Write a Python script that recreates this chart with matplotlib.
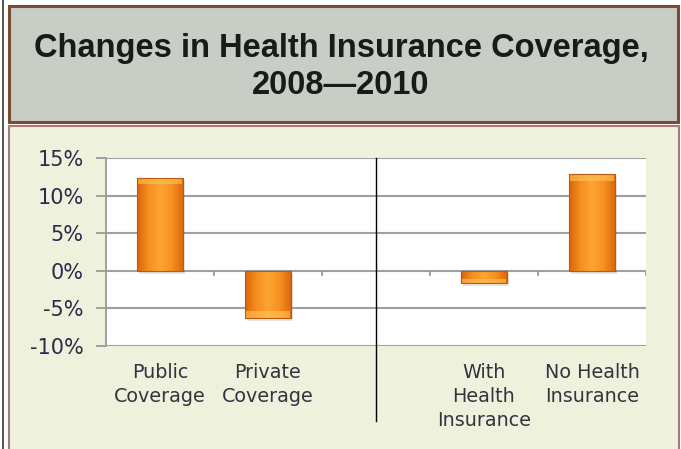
import numpy as np
import matplotlib
matplotlib.use("Agg")
import matplotlib.pyplot as plt
from matplotlib.patches import Rectangle
from matplotlib.colors import LinearSegmentedColormap

# data (percent change, 2008-2010)
categories = ["Public\nCoverage", "Private\nCoverage", "With\nHealth\nInsurance", "No Health\nInsurance"]
positions = [0, 1, 3, 4]
changes = [12.4, -6.3, -1.6, 12.9]
yticks = [-10, -5, 0, 5, 10, 15]

fig = plt.figure(figsize=(6.81, 4.49), dpi=100)
fig.patch.set_facecolor("white")

W, H = 681, 449


def px_rect(x0, y0, x1, y1, **kw):
    # rectangle given in pixel coords (origin top-left)
    r = Rectangle((x0 / W, 1 - y1 / H), (x1 - x0) / W, (y1 - y0) / H,
                  transform=fig.transFigure, zorder=-5, **kw)
    fig.add_artist(r)
    return r


# outer frame line on the left
fig.add_artist(plt.Line2D([3 / W, 3 / W], [0, 1], transform=fig.transFigure,
                          color="#333333", lw=1.2, zorder=-5))
# title box
px_rect(8.5, 5.5, 678, 121.5, facecolor="#c8cdc6", edgecolor="#7b4a35", lw=2.2)
# chart panel
px_rect(9, 125.5, 678.5, 455, facecolor="#eef1dc", edgecolor="#a87a7a", lw=1.5)

fig.text(341 / W, 1 - 48 / H, "Changes in Health Insurance Coverage,",
         ha="center", va="center", fontsize=23.5, fontweight="bold",
         family="Liberation Sans", color="#1a1a1a")
fig.text(341 / W, 1 - 85 / H, "2008\u20142010",
         ha="center", va="center", fontsize=23.5, fontweight="bold",
         family="Liberation Sans", color="#1a1a1a")

ax = fig.add_axes([106 / W, 1 - 346 / H, 540 / W, 188 / H])
ax.set_facecolor("white")

for s in ["top", "right", "bottom"]:
    ax.spines[s].set_visible(False)
ax.spines["left"].set_color("#9a9a9a")
ax.spines["left"].set_linewidth(1.3)

ax.set_yticks(yticks)
ax.set_yticklabels([f"{v}%" for v in yticks], family="DejaVu Sans",
                   fontsize=15, color="#2a2a4a")
ax.tick_params(axis="y", length=7, width=1.3, color="#9a9a9a", pad=9)
ax.yaxis.grid(True, color="#a0a0a0", lw=1.5)
ax.set_axisbelow(True)

ax.set_xticks([])
# slot tick marks below the zero line
for xb in [0.5, 1.5, 2.5, 3.5, 4.5]:
    ax.plot([xb, xb], [0, -0.6], color="#9a9a9a", lw=1.3, zorder=2)

# orange bars with a soft horizontal gradient and a light top bevel
grad = LinearSegmentedColormap.from_list(
    "bar", ["#d9660c", "#f7901f", "#fca535", "#f7901f", "#d9660c"])
bw = 0.43
for x, v in zip(positions, changes):
    lo, hi = min(0, v), max(0, v)
    # shadow
    ax.add_patch(Rectangle((x - bw / 2 + 0.02, lo - 0.4), bw, hi - lo,
                           facecolor="#000000", alpha=0.10, lw=0, zorder=2))
    rect = Rectangle((x - bw / 2, lo), bw, hi - lo, facecolor="none",
                     edgecolor="#b85a10", lw=0.8, zorder=4)
    ax.add_patch(rect)
    g = np.linspace(0, 1, 64).reshape(1, -1)
    im = ax.imshow(g, cmap=grad, extent=[x - bw / 2, x + bw / 2, lo, hi],
                   aspect="auto", zorder=3, interpolation="bilinear")
    im.set_clip_path(rect)
    # bevel on the end away from zero
    cap = min(0.9, (hi - lo) * 0.35)
    cy = hi - cap if v > 0 else lo
    ax.add_patch(Rectangle((x - bw / 2 + 0.01, cy), bw - 0.02, cap,
                           facecolor="#fdc250", alpha=0.65, lw=0, zorder=3.5))

ax.set_xlim(-0.5, 4.5)
ax.set_ylim(-10, 15)

# divider between the two groups
ax.plot([2, 2], [15, -20], color="black", lw=1.0, clip_on=False, zorder=5)

# category labels
for x, lab in zip(positions, categories):
    ax.text(x, -12.3, lab, ha="center", va="top", fontsize=13.8,
            family="DejaVu Sans", color="#34343f", linespacing=1.34)

fig.savefig("out.png", dpi=100)
